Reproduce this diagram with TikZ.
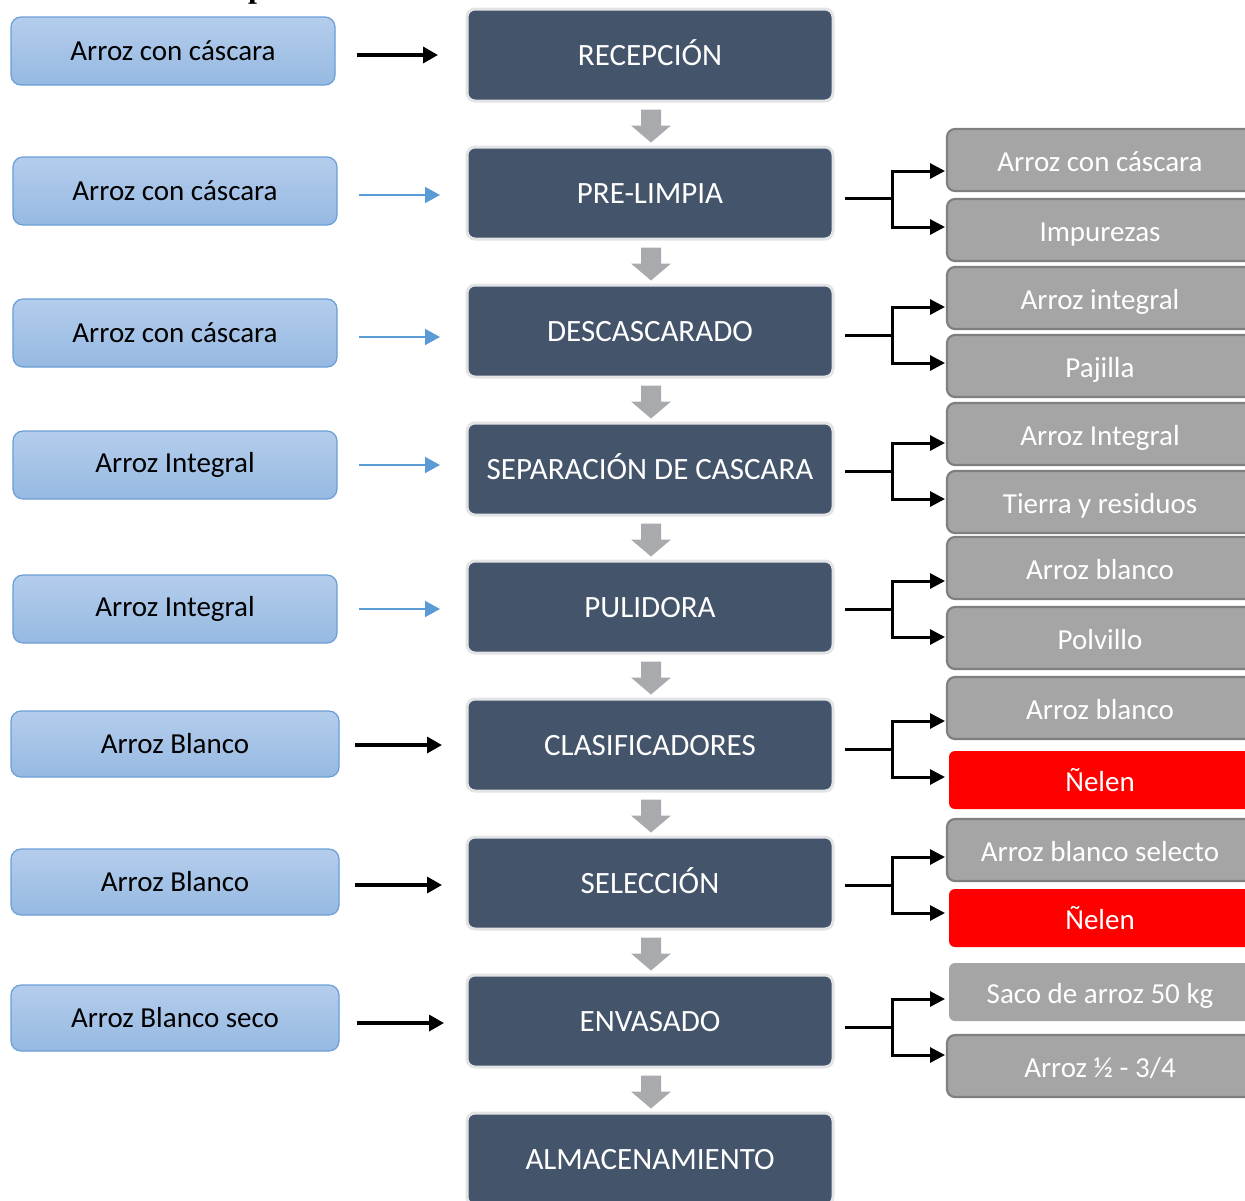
\documentclass[tikz,border=0pt]{standalone}
\usepackage{fontspec}
\setmainfont{Carlito}
\newfontfamily\titlefont{Liberation Serif}
\usetikzlibrary{arrows.meta,calc}

\definecolor{stepfill}{HTML}{44546A}
\definecolor{stepedge}{HTML}{E3E4E6}
\definecolor{inTop}{HTML}{B4CDEC}
\definecolor{inBot}{HTML}{96B9E2}
\definecolor{inEdge}{HTML}{6A9ED6}
\definecolor{outFill}{HTML}{A5A5A5}
\definecolor{outEdge}{HTML}{7F7F7F}
\definecolor{flowBlue}{HTML}{5B9BD5}
\definecolor{downGray}{HTML}{A8AAAE}
\definecolor{rejRed}{HTML}{FF0000}

\tikzset{
  x=0.5pt, y=-0.5pt,
  txt/.style={font=\fontsize{14.5}{17}\selectfont},
  inbox/.style={txt, rounded corners=5pt, draw=inEdge, line width=0.6pt,
    top color=inTop, bottom color=inBot, text=black,
    minimum width=162pt, minimum height=34pt, inner sep=0pt},
  stepbox/.style={rounded corners=4pt, fill=stepfill, draw=stepedge, line width=1.5pt,
    minimum width=183pt, minimum height=46pt, inner sep=0pt, text=white,
    text height=12pt, text depth=2pt,
    font=\fontsize{15.5}{18}\selectfont},
  outbox/.style={txt, rounded corners=4pt, fill=outFill, draw=outEdge, line width=1.1pt,
    minimum width=153pt, minimum height=31pt, inner sep=0pt, text=white,
    text height=14pt, text depth=2.7pt},
  flatbox/.style={txt, rounded corners=3pt, fill=outFill,
    minimum width=151pt, minimum height=29pt, inner sep=0pt, text=white,
    text height=14pt, text depth=2.7pt},
  rejbox/.style={flatbox, fill=rejRed},
  feedblack/.style={line width=1.7pt, -{Triangle[length=7.5pt,width=8pt]}},
  feedblue/.style={flowBlue, line width=0.9pt, -{Triangle[length=7.5pt,width=8pt]}},
  branch/.style={line width=1.5pt},
  brancharrow/.style={branch, -{Triangle[length=7.5pt,width=7.5pt]}},
  downarrow/.style={fill=downGray},
}

\begin{document}
\begin{tikzpicture}
\useasboundingbox (0,0) rectangle (1245,1200);

% heading line, cut by the page top
\begin{scope}
  \clip (0,0) rectangle (1245,1200);
  \node[font=\titlefont\bfseries\fontsize{16}{16}\selectfont, anchor=base, inner sep=0pt] (head) at (257,-3) {p};
\end{scope}

% process steps
\node[stepbox] (m1) at (650,55)   {RECEPCIÓN};
\node[stepbox] (m2) at (650,193)  {PRE-LIMPIA};
\node[stepbox] (m3) at (650,331)  {DESCASCARADO};
\node[stepbox] (m4) at (650,469)  {SEPARACIÓN DE CASCARA};
\node[stepbox] (m5) at (650,607)  {PULIDORA};
\node[stepbox] (m6) at (650,745)  {CLASIFICADORES};
\node[stepbox] (m7) at (650,883)  {SELECCIÓN};
\node[stepbox] (m8) at (650,1021) {ENVASADO};
\node[stepbox] (m9) at (650,1159) {ALMACENAMIENTO};

% block arrows between consecutive steps
\foreach \a/\b in {m1/m2,m2/m3,m3/m4,m4/m5,m5/m6,m6/m7,m7/m8,m8/m9}{
  \fill[downarrow] ($(\a.south)+(-9,7)$) -- ($(\a.south)+(11,7)$) -- ($(\a.south)+(11,23)$)
    -- ($(\a.south)+(21,23)$) -- ($(\a.south)+(1,40)$) -- ($(\a.south)+(-19,23)$)
    -- ($(\a.south)+(-9,23)$) -- cycle;
}

% inputs
\node[inbox] (l1) at (173,51)  {Arroz con cáscara};
\node[inbox] (l2) at (175,191) {Arroz con cáscara};
\node[inbox] (l3) at (175,333) {Arroz con cáscara};
\node[inbox] (l4) at (175,465) {Arroz Integral};
\node[inbox] (l5) at (175,609) {Arroz Integral};
\node[inbox, minimum width=164pt, minimum height=33pt] (l6) at (175,744)  {Arroz Blanco};
\node[inbox, minimum width=164pt, minimum height=33pt] (l7) at (175,882)  {Arroz Blanco};
\node[inbox, minimum width=164pt, minimum height=33pt] (l8) at (175,1018) {Arroz Blanco seco};

% input arrows
\coordinate (f1s) at (357,55);   \coordinate (f1e) at (438,55);
\coordinate (f2s) at (359,195);  \coordinate (f2e) at (440,195);
\coordinate (f3s) at (359,337);  \coordinate (f3e) at (440,337);
\coordinate (f4s) at (359,465);  \coordinate (f4e) at (440,465);
\coordinate (f5s) at (359,609);  \coordinate (f5e) at (440,609);
\coordinate (f6s) at (355,745);  \coordinate (f6e) at (442,745);
\coordinate (f7s) at (355,885);  \coordinate (f7e) at (442,885);
\coordinate (f8s) at (357,1023); \coordinate (f8e) at (444,1023);
\draw[feedblack] (f1s) -- (f1e);
\draw[feedblue]  (f2s) -- (f2e);
\draw[feedblue]  (f3s) -- (f3e);
\draw[feedblue]  (f4s) -- (f4e);
\draw[feedblue]  (f5s) -- (f5e);
\draw[feedblack] (f6s) -- (f6e);
\draw[feedblack] (f7s) -- (f7e);
\draw[feedblack] (f8s) -- (f8e);

% outputs
\node[outbox] (r2a) at (1100,160) {Arroz con cáscara};
\node[outbox] (r2b) at (1100,230) {Impurezas};
\node[outbox] (r3a) at (1100,298) {Arroz integral};
\node[outbox] (r3b) at (1100,366) {Pajilla};
\node[outbox] (r4a) at (1100,434) {Arroz Integral};
\node[outbox] (r4b) at (1100,502) {Tierra y residuos};
\node[outbox] (r5a) at (1100,568) {Arroz blanco};
\node[outbox] (r5b) at (1100,638) {Polvillo};
\node[outbox] (r6a) at (1100,708) {Arroz blanco};
\node[rejbox] (r6b) at (1100,780) {Ñelen};
\node[outbox] (r7a) at (1100,850) {Arroz blanco selecto};
\node[rejbox] (r7b) at (1100,918) {Ñelen};
\node[flatbox] (r8a) at (1100,992) {Saco de arroz 50 kg};
\node[outbox] (r8b) at (1100,1066) {Arroz ½ - 3/4};

% output brackets: step -> junction -> two outputs
\foreach \n/\ys/\yu/\yl in {2/198/171/227, 3/335/307/363, 4/471/443/499, 5/609/581/637,
                          6/749/721/777, 7/885/857/913, 8/1027/999/1055}{
  \coordinate (s\n) at (845,\ys);
  \coordinate (j\n) at (892,\ys);
  \coordinate (u\n) at (945,\yu);
  \coordinate (d\n) at (945,\yl);
  \draw[branch] (s\n) -- (j\n);
  \draw[brancharrow] (j\n) |- (u\n);
  \draw[brancharrow] (j\n) |- (d\n);
}
\end{tikzpicture}
\end{document}
